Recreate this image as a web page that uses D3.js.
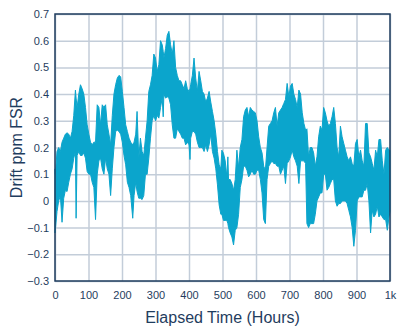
<!DOCTYPE html>
<html>
<head>
<meta charset="utf-8">
<script src="https://cdn.jsdelivr.net/npm/d3@7"></script>
<style>
  body { margin: 0; background: #fff; }
  text { font-family: "Liberation Sans", Arial, sans-serif; }
</style>
</head>
<body>
<div id="chart"></div>
<script>
// envelope of the drift trace (hours, upper, lower in ppm FSR)
const hours = [0, 1, 6, 11, 16, 21, 26, 31, 36, 41, 46, 51, 56, 61, 63, 66, 71, 76, 81, 86,
  91, 96, 101, 106, 111, 116, 121, 126, 131, 136, 141, 146, 151, 156, 161, 166, 171, 176, 181, 186,
  191, 196, 201, 206, 211, 216, 221, 226, 232, 236, 241,
  245, 250, 255, 260, 265, 270, 275, 280, 285, 290, 295, 300, 305, 310, 315, 320, 323, 325, 330, 335,
  340, 345, 350, 355, 360, 365, 370, 375, 380, 385, 390, 395, 400, 403, 405, 410, 415, 420, 425, 430,
  435, 440, 445, 450, 455, 460, 465, 470, 475, 480, 485, 490, 495,
  498, 503, 508, 513, 516, 518, 523, 528, 533, 538, 543, 548, 553, 558, 563, 568, 573, 578, 583, 588,
  593, 598, 603, 608, 613, 618, 623, 628, 633, 638, 643, 648, 653, 658, 663, 668, 673, 678, 683, 688,
  693, 698, 703, 708, 713, 718, 723, 728, 733, 738, 743, 748,
  752, 757, 762, 767, 772, 777, 782, 787, 792, 797, 802, 807, 812, 817, 822, 827, 832, 837, 842, 847,
  852, 857, 862, 867, 872, 877, 882, 887, 892, 897, 902, 907, 912, 917, 922, 927, 932, 937, 942, 947,
  952, 957, 962, 967, 972, 977, 982, 987, 992, 997, 1000];
const upper = [0.12, 0.10, 0.185, 0.20, 0.185, 0.22, 0.235, 0.25, 0.255, 0.25, 0.235, 0.26, 0.32, 0.415, 0.385, 0.35, 0.40, 0.435, 0.42, 0.40,
  0.35, 0.285, 0.25, 0.22, 0.21, 0.22, 0.22, 0.36, 0.35, 0.285, 0.36, 0.35, 0.36, 0.285, 0.25, 0.21, 0.32, 0.40, 0.435, 0.46,
  0.47, 0.465, 0.41, 0.35, 0.285, 0.26, 0.235, 0.22, 0.21, 0.22, 0.25,
  0.335, 0.16, 0.235, 0.185, 0.17, 0.235, 0.30, 0.41, 0.435, 0.47, 0.55, 0.535, 0.485, 0.51, 0.60, 0.585, 0.56, 0.535, 0.57, 0.62,
  0.635, 0.585, 0.55, 0.60, 0.50, 0.47, 0.45, 0.45, 0.435, 0.42, 0.45, 0.42, 0.41, 0.42, 0.435, 0.47, 0.535, 0.46, 0.41, 0.485,
  0.45, 0.41, 0.40, 0.37, 0.385, 0.41, 0.37, 0.335, 0.30, 0.25, 0.185, 0.135, 0.12,
  0.19, 0.178, 0.15, 0.09, 0.165, 0.08, 0.08, 0.065, 0.04, 0.08, 0.19, 0.125, 0.20, 0.23, 0.315, 0.34, 0.35, 0.315, 0.35, 0.34,
  0.335, 0.33, 0.30, 0.24, 0.20, 0.18, 0.13, 0.115, 0.20, 0.28, 0.29, 0.30, 0.33, 0.35, 0.28, 0.33, 0.34, 0.35, 0.365, 0.38,
  0.44, 0.39, 0.43, 0.44, 0.40, 0.38, 0.35, 0.415, 0.40, 0.33, 0.29, 0.265,
  0.27, 0.165, 0.20, 0.20, 0.18, 0.13, 0.165, 0.24, 0.28, 0.265, 0.35, 0.33, 0.30, 0.28, 0.29, 0.315, 0.35, 0.29, 0.20, 0.165,
  0.28, 0.24, 0.215, 0.19, 0.165, 0.15, 0.165, 0.14, 0.13, 0.215, 0.23, 0.165, 0.19, 0.15, 0.13, 0.29, 0.29, 0.18, 0.165, 0.14,
  0.115, 0.19, 0.165, 0.23, 0.23, 0.15, 0.10, 0.19, 0.20, 0.19, 0.19];
const lower = [-0.12, -0.11, -0.04, 0.00, 0.02, -0.08, 0.01, 0.04, 0.035, 0.07, 0.10, 0.12, 0.16, 0.185, -0.065, 0.17, 0.185, 0.17, 0.17, 0.18,
  0.16, 0.11, 0.10, 0.10, 0.07, 0.05, -0.07, 0.10, 0.15, 0.16, 0.12, 0.10, 0.16, 0.12, 0.10, 0.02, 0.12, 0.20, 0.26, 0.265,
  0.26, 0.25, 0.22, 0.17, 0.135, 0.07, 0.05, 0.02, -0.065, 0.02, 0.07,
  0.035, 0.01, 0.01, 0.005, 0.02, 0.10, 0.10, 0.16, 0.235, 0.30, 0.32, 0.30, 0.32, 0.31, 0.35, 0.385, 0.315, 0.40, 0.385, 0.39,
  0.385, 0.36, 0.285, 0.235, 0.235, 0.27, 0.26, 0.25, 0.235, 0.235, 0.21, 0.22, 0.21, 0.155, 0.235, 0.26, 0.26, 0.25, 0.22, 0.20,
  0.20, 0.20, 0.185, 0.21, 0.185, 0.21, 0.25, 0.185, 0.16, 0.12, 0.06, -0.015, -0.05,
  -0.05, -0.073, -0.073, -0.073, -0.085, -0.10, -0.12, -0.135, -0.165, -0.11, -0.10, -0.05, 0.05, 0.08, 0.13, 0.13, 0.115, 0.09, 0.10, 0.115,
  0.10, 0.10, 0.115, 0.115, 0.08, 0.03, -0.07, -0.085, 0.08, 0.13, 0.14, 0.15, 0.14, 0.14, 0.13, 0.13, 0.10, 0.115, 0.13, 0.065,
  0.14, 0.15, 0.165, 0.19, 0.165, 0.15, 0.13, 0.065, 0.15, 0.15, 0.15, 0.14,
  -0.085, -0.10, -0.085, -0.085, -0.085, -0.05, 0.00, 0.015, 0.03, 0.03, 0.10, 0.10, 0.04, 0.05, 0.065, 0.08, 0.08, 0.00, -0.02, -0.01,
  -0.01, 0.00, 0.00, 0.00, -0.01, -0.035, -0.06, -0.10, -0.17, -0.11, 0.00, 0.015, 0.015, 0.015, 0.04, 0.04, 0.065, 0.00, -0.12, -0.035,
  -0.06, -0.05, -0.02, -0.06, -0.05, -0.06, -0.07, -0.07, -0.11, -0.06, -0.04];

const xTicks = [0, 100, 200, 300, 400, 500, 600, 700, 800, 900, 1000];
const yTicks = [-0.3, -0.2, -0.1, 0, 0.1, 0.2, 0.3, 0.4, 0.5, 0.6, 0.7];

const W = 402, H = 329;
const margin = { top: 14, right: 12, bottom: 48, left: 55 },
  width = W - margin.left - margin.right,
  height = H - margin.top - margin.bottom;

const ink = "#1f3d5e", grid = "#c3cdd9", trace = "#0ba5cc";

const svg = d3.select("#chart")
  .append("svg")
  .attr("width", W)
  .attr("height", H)
  .append("g")
  .attr("transform", "translate(" + margin.left + "," + margin.top + ")");

const x = d3.scaleLinear().domain([0, 1000]).range([0, width]);
const y = d3.scaleLinear().domain([-0.3, 0.7]).range([height, 0]);

// grid lines
svg.append("g")
  .attr("transform", "translate(0," + height + ")")
  .call(d3.axisBottom(x).tickValues(xTicks).tickSize(-height).tickFormat(""))
  .call(g => g.select(".domain").remove())
  .selectAll("line").attr("stroke", grid).attr("stroke-width", 1.5);

svg.append("g")
  .call(d3.axisLeft(y).tickValues(yTicks).tickSize(-width).tickFormat(""))
  .call(g => g.select(".domain").remove())
  .selectAll("line").attr("stroke", grid).attr("stroke-width", 1.5);

// drift trace envelope
const rows = hours.map((h, i) => ({ h: h, hi: upper[i], lo: lower[i] }));

svg.append("path")
  .datum(rows)
  .attr("fill", trace)
  .attr("stroke", trace)
  .attr("stroke-width", 1)
  .attr("d", d3.area()
    .x(d => x(d.h))
    .y0(d => y(d.lo))
    .y1(d => y(d.hi)));

// frame
svg.append("rect")
  .attr("width", width)
  .attr("height", height)
  .attr("fill", "none")
  .attr("stroke", ink)
  .attr("stroke-width", 1.5);

// tick labels
const xAxis = svg.append("g")
  .attr("transform", "translate(0," + height + ")")
  .call(d3.axisBottom(x).tickValues(xTicks).tickSize(0).tickPadding(10)
    .tickFormat(d => d === 1000 ? "1k" : d));
xAxis.select(".domain").remove();
xAxis.selectAll("text").attr("fill", ink).style("font-size", "11px");

const yAxis = svg.append("g")
  .call(d3.axisLeft(y).tickValues(yTicks).tickSize(0).tickPadding(6)
    .tickFormat(d => d === 0 ? "0" : d3.format(".1f")(d).replace("-", "\u2212")));
yAxis.select(".domain").remove();
yAxis.selectAll("text").attr("fill", ink).style("font-size", "11px");

// axis titles
svg.append("text")
  .attr("x", width / 2)
  .attr("y", height + 42)
  .attr("text-anchor", "middle")
  .attr("fill", ink)
  .style("font-size", "16px")
  .text("Elapsed Time (Hours)");

svg.append("text")
  .attr("transform", "rotate(-90)")
  .attr("x", -height / 2)
  .attr("y", -margin.left + 22)
  .attr("text-anchor", "middle")
  .attr("fill", ink)
  .style("font-size", "16px")
  .text("Drift ppm FSR");
</script>
</body>
</html>
